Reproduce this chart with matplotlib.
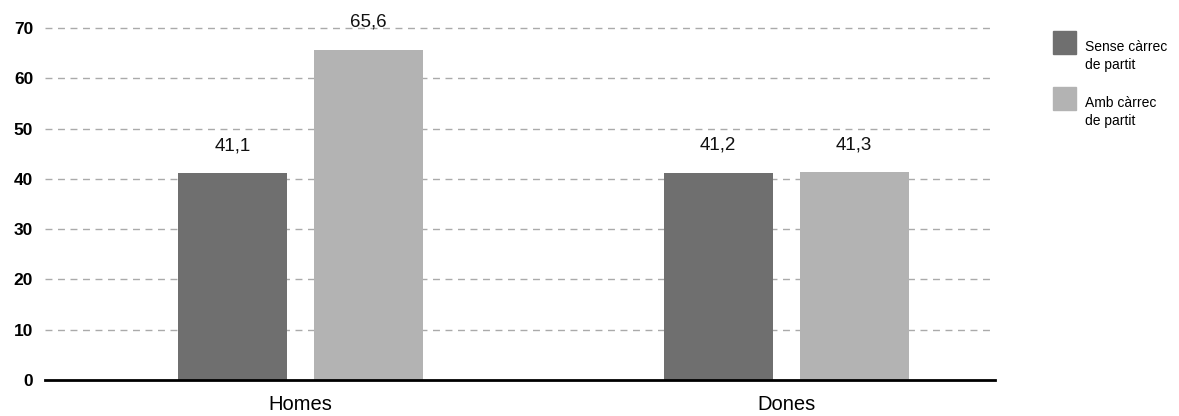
import matplotlib
matplotlib.use("Agg")
import matplotlib.pyplot as plt
from matplotlib.patches import Rectangle

categories = ["Homes", "Dones"]
series_names = ["Sense càrrec\nde partit", "Amb càrrec\nde partit"]
sense_carrec = [41.1, 41.2]
amb_carrec = [65.6, 41.3]
yticks = [0, 10, 20, 30, 40, 50, 60, 70]

DARK, LIGHT = "#6f6f6f", "#b3b3b3"
plt.rcParams["font.family"] = ["Liberation Sans", "DejaVu Sans"]

fig = plt.figure(figsize=(11.79, 4.16), dpi=100)
ax = fig.add_axes([45 / 1179, 36 / 416, 950 / 1179, 352 / 416])

x = list(range(len(categories)))
w, off = 0.2245, 0.140
for vals, col, sign in ((sense_carrec, DARK, -1), (amb_carrec, LIGHT, 1)):
    pos = [xi + sign * off for xi in x]
    ax.bar(pos, vals, width=w, color=col, zorder=2)
    for p, v in zip(pos, vals):
        ax.annotate(f"{v:.1f}".replace(".", ","), (p, v), xytext=(0, 20),
                    textcoords="offset points", ha="center", va="center",
                    fontsize=13.5, color="#111111", annotation_clip=False)

for t in yticks[1:]:
    ax.axhline(t, color="#aaaaaa", lw=1, ls=(0, (5, 4)), zorder=1, clip_on=False)
ax.axhline(0, color="black", lw=2, zorder=3, clip_on=False)

ax.set_xlim(-0.526, 1.430)
ax.set_ylim(0, 70)
for s in ax.spines.values():
    s.set_visible(False)
ax.set_yticks(yticks)
ax.set_yticklabels([str(t) for t in yticks], fontsize=12.5, fontweight="bold")
ax.tick_params(axis="y", length=0, pad=8.5)
ax.set_xticks(x)
ax.set_xticklabels(categories, fontsize=14.5)
ax.tick_params(axis="x", length=0, pad=11)

# legend drawn by hand on the figure
for i, (name, col) in enumerate(zip(series_names, (DARK, LIGHT))):
    top = 31 + i * 56
    fig.add_artist(Rectangle((1053 / 1179, 1 - (top + 23) / 416), 23 / 1179, 23 / 416,
                             transform=fig.transFigure, color=col))
    fig.text(1085 / 1179, 1 - (top + 25) / 416, name, fontsize=10,
             va="center", ha="left", linespacing=1.35)

fig.savefig("out.png", dpi=100)
